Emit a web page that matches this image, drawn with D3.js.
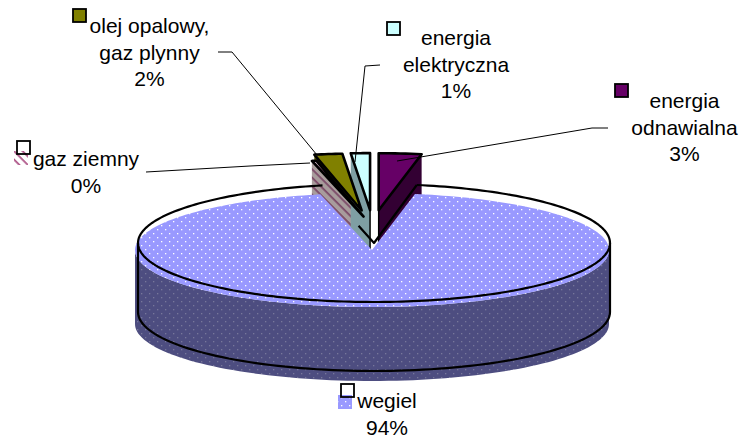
<!DOCTYPE html>
<html><head><meta charset="utf-8">
<script src="https://cdn.jsdelivr.net/npm/d3@7"></script>
<style>html,body{margin:0;background:#fff}svg{display:block}text{font-family:"Liberation Sans",Arial,sans-serif;font-size:21px;fill:#000;text-anchor:middle}</style>
</head><body><svg width="742" height="438"></svg>
<script>
// data (pie order, clockwise from twelve o'clock)
const categories=["energia odnawialna","wegiel","gaz ziemny","olej opalowy, gaz plynny","energia elektryczna"];
const values=[2.9,93.6,0.3,1.9,1.3];
const labelLines=[["energia","odnawialna"],["wegiel"],["gaz ziemny"],["olej opalowy,","gaz plynny"],["energia","elektryczna"]];
const topColors=["#660066","#9999ff","#ffffff","#808000","#ccffff"];
const sideColors=["#330033","#4d4d80","#a89c9c","#4d4d00","#7f9fa3"];

// layout, kept apart from the data
const G={cx:372,cy:250,rx:237,ry:57,depth:74};
const explodeX=[.31,0,.17,.31,.2], explodeY=[.7,0,.6,.7,.7];
const O={cx:374,cy:243,rx:236,ry:59,depth:69};
const labelLayout=[{x:684.5,y:108},{x:387,y:408},{x:86,y:166},{x:149.5,y:33},{x:456,y:45}];
const keyLayout=[{x:615,y:84,dx:0,dy:0},{x:341,y:384,dx:-3,dy:11},{x:17,y:141,dx:-3,dy:10},{x:73,y:9,dx:0,dy:0},{x:387,y:22,dx:0,dy:0}];
const leaders=[[[608,128],[592,128],[397,161]],[],[[146,172],[250,166],[310,163]],[[218,52],[232,52],[317,155]],[[380,65],[365,66],[355,162]]];

const svg=d3.select("svg"),defs=svg.append("defs");
function pat(id,bg,dot){const p=defs.append("pattern").attr("id",id).attr("width",8).attr("height",8).attr("patternUnits","userSpaceOnUse");
 p.append("rect").attr("width",8).attr("height",8).attr("fill",bg);
 [[1,1],[5,5]].forEach(c=>p.append("rect").attr("x",c[0]).attr("y",c[1]).attr("width",1.3).attr("height",1.3).attr("fill",dot));}
pat("dotTop","#9999ff","#ffffff");pat("dotSide","#4d4d80","#77779a");
function hatch(id,bg,fg){const p=defs.append("pattern").attr("id",id).attr("width",6).attr("height",6).attr("patternUnits","userSpaceOnUse").attr("patternTransform","rotate(45)");
 p.append("rect").attr("width",6).attr("height",6).attr("fill",bg);
 p.append("rect").attr("width",6).attr("height",1.8).attr("fill",fg);}
hatch("hatchTop","#ffffff","#b0588a");hatch("hatchSide","#a89c9c","#7c4a68");

const arcs=d3.pie().sort(null).value(d=>d)(values);
const px=(g,a,r=1)=>g.cx+g.rx*r*Math.sin(a), py=(g,a,r=1)=>g.cy-g.ry*r*Math.cos(a);
const line=d3.line();
const arcPts=(g,a0,a1,n=90)=>d3.range(n+1).map(i=>{const a=a0+(a1-a0)*i/n;return[px(g,a),py(g,a)];});

// explosion offset of each small wedge
function wedge(d,i){let mid=(d.startAngle+d.endAngle)/2;
 const ox=explodeX[i]*G.rx*Math.sin(mid),oy=-explodeY[i]*G.ry*Math.cos(mid);
 const g={cx:G.cx+ox,cy:G.cy+oy,rx:G.rx,ry:G.ry};
 return{g,tip:[g.cx,g.cy],a:[px(g,d.startAngle),py(g,d.startAngle)],b:[px(g,d.endAngle),py(g,d.endAngle)],arc:arcPts(g,d.startAngle,d.endAngle,8)};}
const down=(p,h)=>[p[0],p[1]+h];
const face=(p,q)=>[p,q,down(q,G.depth),down(p,G.depth)];

// big slice side
const coal=arcs[1];
const frontPts=arcPts(G,Math.PI/2,3*Math.PI/2);
svg.append("path").attr("d",line([...frontPts,...frontPts.slice().reverse().map(p=>down(p,G.depth))])+"Z").attr("fill","url(#dotSide)");

// cut faces of small wedges (visible through the notch)
const drawOrder=[3,2,4,0];
drawOrder.forEach(i=>{const w=wedge(arcs[i],i);
 const f=i===0?face(w.b,w.tip):face(w.a,w.tip);
 const fill=i===2?"url(#hatchSide)":sideColors[i];
 svg.append("path").attr("d",line(f)+"Z").attr("fill",fill);
 svg.append("path").attr("d",line([w.tip,down(w.tip,G.depth)])).attr("stroke","#000").attr("stroke-width",1.5).attr("fill","none");
});

// big slice top
const topPts=arcPts(G,coal.startAngle,coal.endAngle,240);
svg.append("path").attr("d",line([[G.cx,G.cy],...topPts])+"Z").attr("fill","url(#dotTop)");

// big slice outline, drawn offset
const oTop=arcPts(O,coal.startAngle,coal.endAngle,240);
const apex=[O.cx,O.cy];
const frac=(p,q,t)=>[p[0]+(q[0]-p[0])*t,p[1]+(q[1]-p[1])*t];
const stroke=(pts,w=2.2)=>svg.append("path").attr("d",line(pts)).attr("fill","none").attr("stroke","#000").attr("stroke-width",w).attr("stroke-linejoin","round");
stroke(oTop);
stroke([frac(apex,oTop[oTop.length-1],.3),apex,oTop[0]]);
const oFront=arcPts(O,Math.PI/2,3*Math.PI/2).map(p=>down(p,O.depth));
stroke([[px(O,Math.PI/2),py(O,Math.PI/2)],...oFront,[px(O,3*Math.PI/2),py(O,3*Math.PI/2)]]);

// small wedge top faces
[2,3,4,0].forEach(i=>{const w=wedge(arcs[i],i);
 const pts=[w.tip,...w.arc];
 svg.append("path").attr("d",line(pts)+"Z").attr("fill",i===2?"url(#hatchTop)":topColors[i]).attr("stroke","#000").attr("stroke-width",2.6).attr("stroke-linejoin","round");
});

// leaders
leaders.forEach(l=>{if(l.length)svg.append("path").attr("d",line(l)).attr("fill","none").attr("stroke","#000").attr("stroke-width",1);});

// labels
categories.forEach((c,i)=>{const L=labelLayout[i],lines=[...labelLines[i],Math.round(values[i])+"%"];
 const t=svg.append("text").attr("aria-label",c);
 lines.forEach((s,j)=>t.append("tspan").attr("x",L.x).attr("y",L.y+j*26.7).text(s));
 const K=keyLayout[i];
 const fill=i===1?"url(#dotTop)":i===2?"url(#hatchTop)":topColors[i];
 if(K.dx||K.dy){svg.append("rect").attr("x",K.x+K.dx).attr("y",K.y+K.dy).attr("width",14).attr("height",14).attr("fill",fill);
  svg.append("rect").attr("x",K.x).attr("y",K.y).attr("width",13).attr("height",13).attr("fill","none").attr("stroke","#000").attr("stroke-width",1.8);}
 else svg.append("rect").attr("x",K.x).attr("y",K.y).attr("width",13).attr("height",13).attr("fill",fill).attr("stroke","#000").attr("stroke-width",1.8);
});
</script></body></html>
